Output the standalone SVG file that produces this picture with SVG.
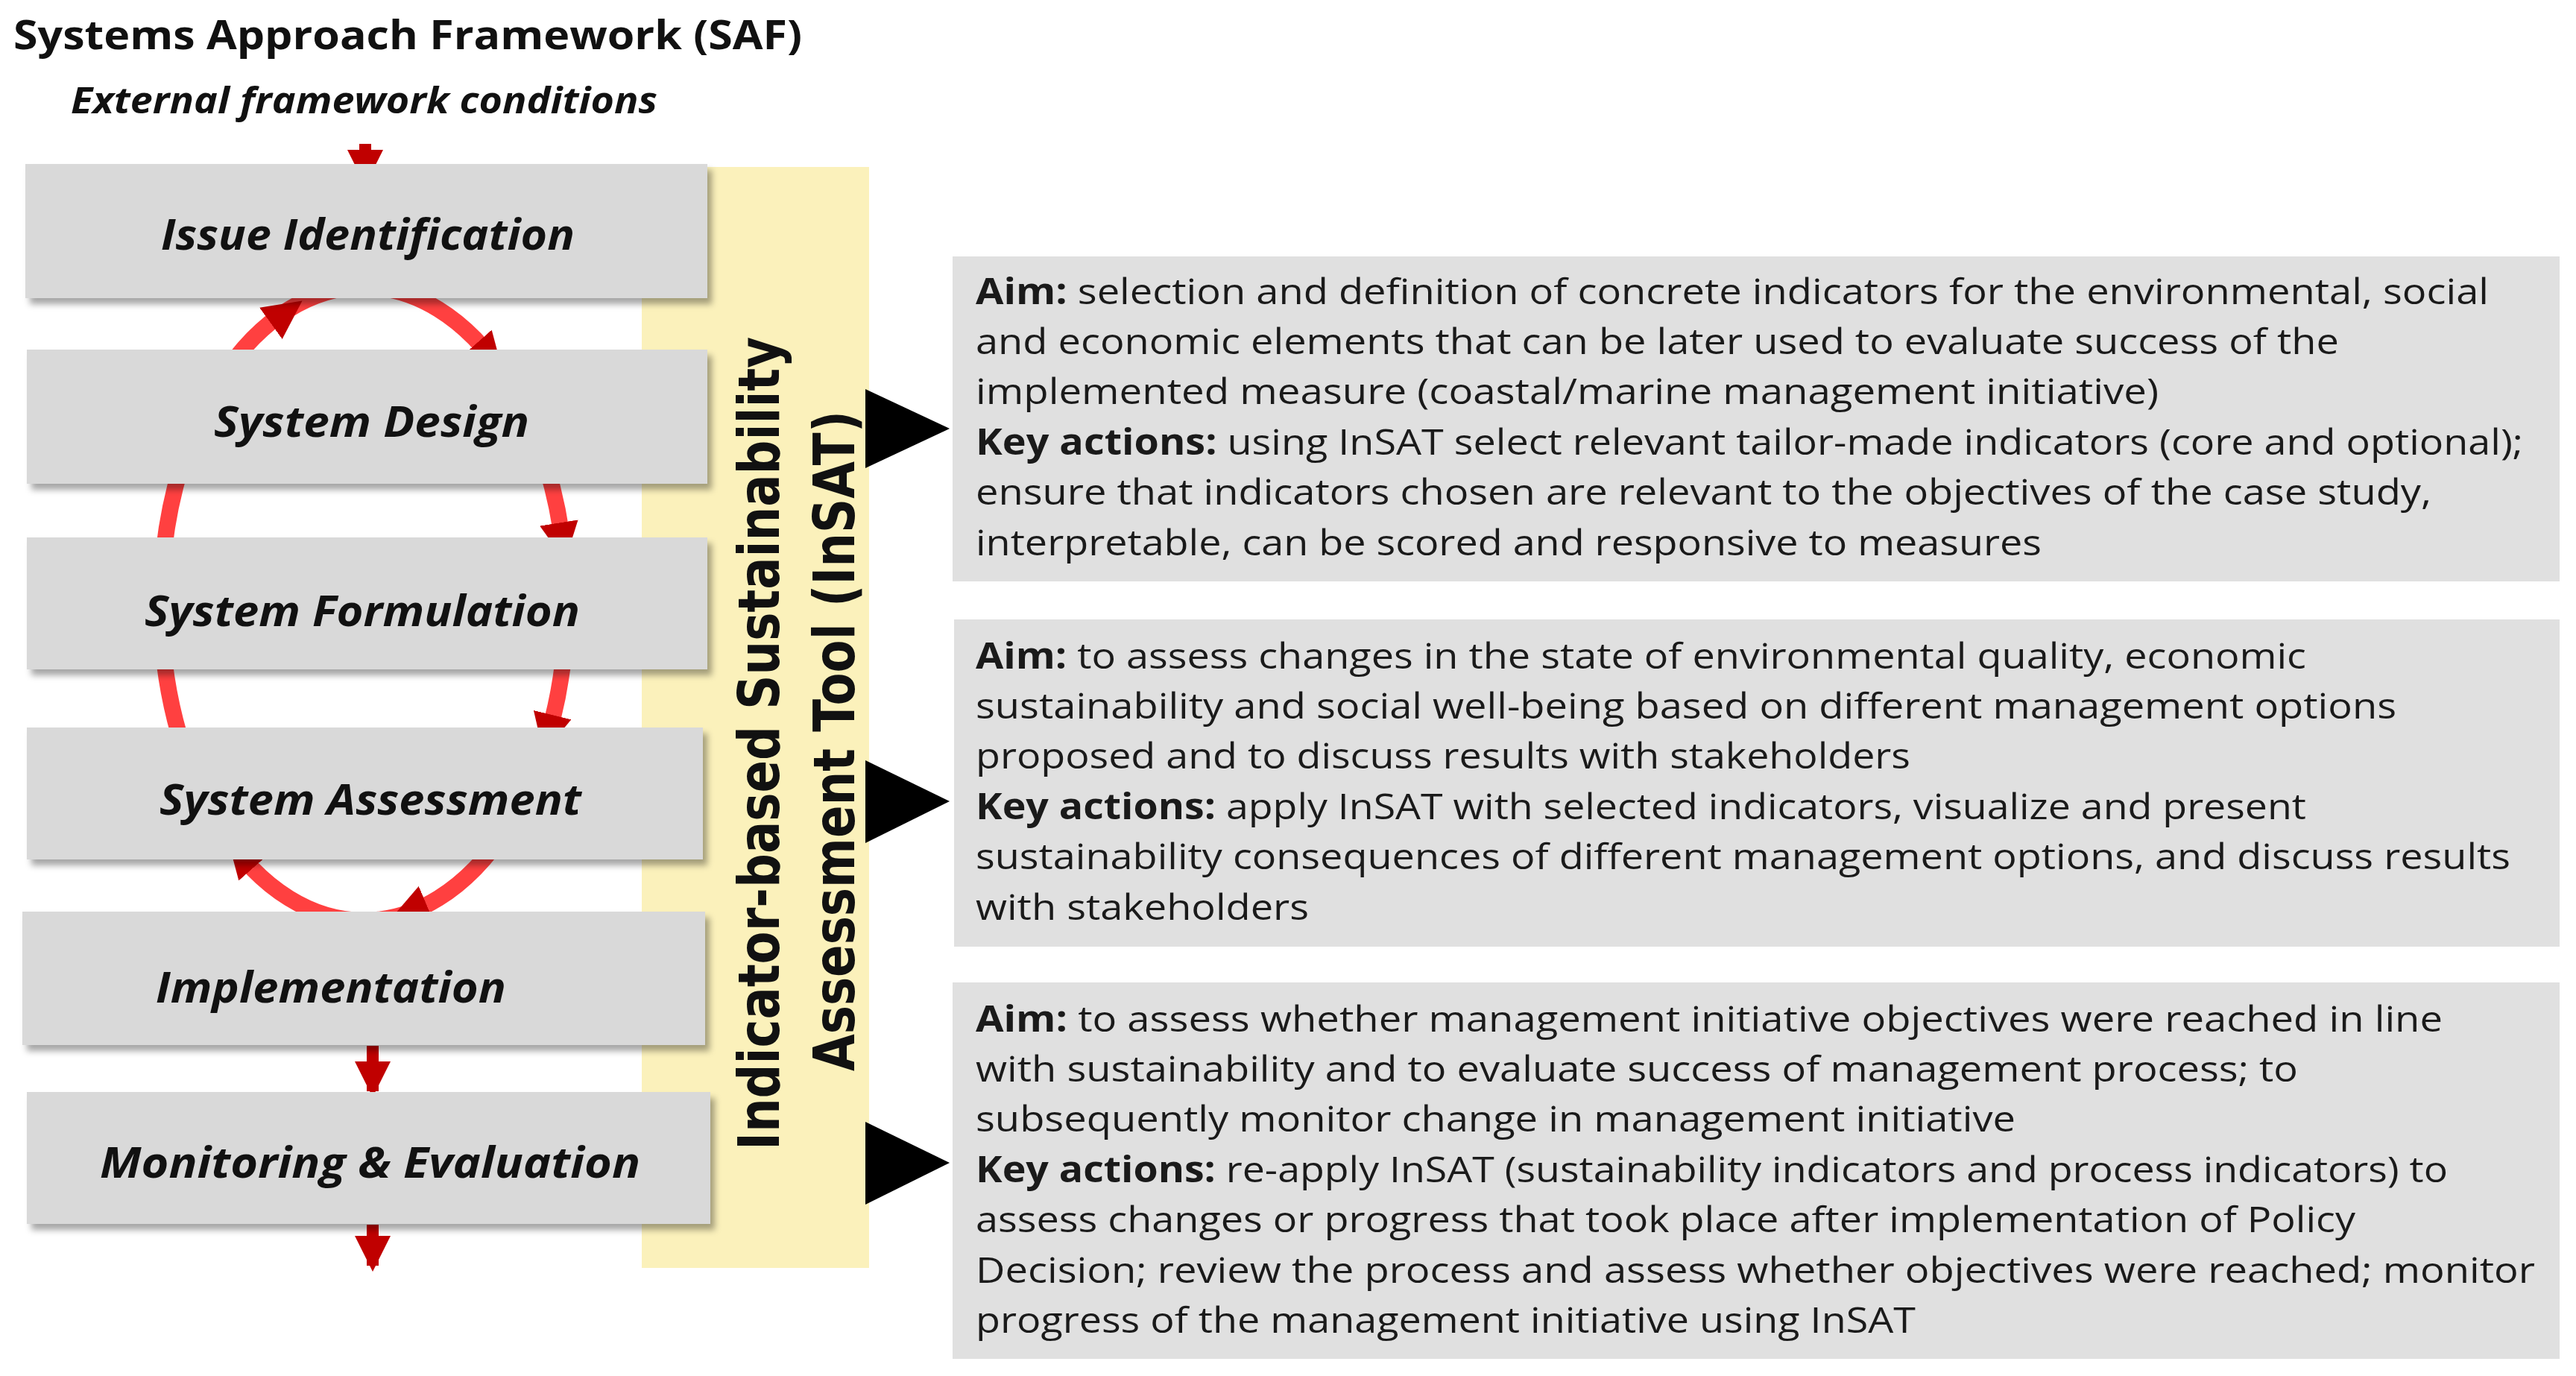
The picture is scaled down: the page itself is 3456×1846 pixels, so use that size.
<svg xmlns="http://www.w3.org/2000/svg" width="3456" height="1846" viewBox="0 0 3456 1846">
<style>
.box{fill:#d9d9d9;filter:url(#sh)}
.lbl{font-family:"Open Sans","Liberation Sans",sans-serif;font-weight:bold;font-style:italic;font-size:58px;fill:#111}
.rb{fill:#e0e0e0}
.t{font-family:"Open Sans","Liberation Sans",sans-serif;font-size:48px;fill:#1a1a1a}
.t tspan.b{font-weight:bold}
.v{font-family:"DejaVu Sans","Liberation Sans",sans-serif;font-weight:bold;font-size:76px;fill:#111}
.red{stroke:#c00000;stroke-width:16;fill:none}
.hd{stroke:#ff4040;stroke-width:1;fill:none}
</style>
<defs>
<filter id="sh" x="-5%" y="-10%" width="115%" height="130%"><feDropShadow dx="6" dy="8" stdDeviation="4" flood-color="#000" flood-opacity="0.35"/></filter>
<marker id="ah" viewBox="0 0 12 12" refX="9" refY="6" markerWidth="52" markerHeight="52" markerUnits="userSpaceOnUse" orient="auto"><path d="M0,0 L12,6 L0,12 z" fill="#c00000"/></marker>
<marker id="as" viewBox="0 0 12 12" refX="10" refY="6" markerWidth="48" markerHeight="48" markerUnits="userSpaceOnUse" orient="auto"><path d="M0,0 L12,6 L0,12 z" fill="#c00000"/></marker>
</defs>
<rect width="3456" height="1846" fill="#fff"/>
<text x="18" y="66" font-family="Open Sans,Liberation Sans,sans-serif" font-weight="bold" font-size="54" textLength="1058" lengthAdjust="spacingAndGlyphs" fill="#111">Systems Approach Framework (SAF)</text>
<text x="95" y="152" font-family="Open Sans,Liberation Sans,sans-serif" font-weight="bold" font-style="italic" font-size="48" textLength="787" lengthAdjust="spacingAndGlyphs" fill="#111">External framework conditions</text>
<rect id="band" x="861" y="224" width="305" height="1477" fill="#fbf1bb"/>
<g id="connectors">
<ellipse cx="488" cy="810" rx="272" ry="425" fill="none" stroke="#ff4040" stroke-width="22"/>
<path d="M352,442 L395,411" class="hd" marker-end="url(#ah)"/>
<path d="M628,446 L666,489" class="hd" marker-end="url(#ah)"/>
<path d="M744,665 L756,740" class="hd" marker-end="url(#ah)"/>
<path d="M749,927 L732,997" class="hd" marker-end="url(#ah)"/>
<path d="M581,1209 L536,1228" class="hd" marker-end="url(#ah)"/>
<path d="M352,1178 L314,1135" class="hd" marker-end="url(#ah)"/>
<path d="M490,193 L490,241" class="red" marker-end="url(#as)"/>
<path d="M500,1403 L500,1464" class="red" marker-end="url(#as)"/>
<path d="M500,1643 L500,1698" class="red" marker-end="url(#as)"/>
<path d="M1161,522 L1274,575 L1161,628 z" fill="#000"/>
<path d="M1161,1020 L1274,1075 L1161,1131 z" fill="#000"/>
<path d="M1161,1505 L1274,1560 L1161,1616 z" fill="#000"/>
</g>
<g id="n1"><rect class="box" x="34" y="220" width="915" height="180"/><text class="lbl" x="216" y="335" textLength="555" lengthAdjust="spacingAndGlyphs">Issue Identification</text></g>
<g id="n2"><rect class="box" x="36" y="469" width="913" height="180"/><text class="lbl" x="287" y="586" textLength="423" lengthAdjust="spacingAndGlyphs">System Design</text></g>
<g id="n3"><rect class="box" x="36" y="721" width="913" height="177"/><text class="lbl" x="194" y="840" textLength="584" lengthAdjust="spacingAndGlyphs">System Formulation</text></g>
<g id="n4"><rect class="box" x="36" y="976" width="907" height="177"/><text class="lbl" x="214" y="1093" textLength="566" lengthAdjust="spacingAndGlyphs">System Assessment</text></g>
<g id="n5"><rect class="box" x="30" y="1223" width="916" height="179"/><text class="lbl" x="209" y="1345" textLength="470" lengthAdjust="spacingAndGlyphs">Implementation</text></g>
<g id="n6"><rect class="box" x="36" y="1465" width="917" height="177"/><text class="lbl" x="134" y="1580" textLength="725" lengthAdjust="spacingAndGlyphs">Monitoring &amp; Evaluation</text></g>
<g id="insat">
<text class="v" transform="translate(1045,1543) rotate(-90)" textLength="1091" lengthAdjust="spacingAndGlyphs">Indicator-based Sustainability</text>
<text class="v" transform="translate(1146,1437) rotate(-90)" textLength="886" lengthAdjust="spacingAndGlyphs">Assessment Tool (InSAT)</text>
</g>
<g id="d1"><rect class="rb" x="1278" y="344" width="2156" height="436"/>
<text class="t" x="1309" y="408" textLength="2030" lengthAdjust="spacingAndGlyphs"><tspan class="b">Aim:</tspan> selection and definition of concrete indicators for the environmental, social</text>
<text class="t" x="1309" y="475" textLength="1829" lengthAdjust="spacingAndGlyphs">and economic elements that can be later used to evaluate success of the</text>
<text class="t" x="1309" y="542" textLength="1587" lengthAdjust="spacingAndGlyphs">implemented measure (coastal/marine management initiative)</text>
<text class="t" x="1309" y="610" textLength="2076" lengthAdjust="spacingAndGlyphs"><tspan class="b">Key actions:</tspan> using InSAT select relevant tailor-made indicators (core and optional);</text>
<text class="t" x="1309" y="677" textLength="1953" lengthAdjust="spacingAndGlyphs">ensure that indicators chosen are relevant to the objectives of the case study,</text>
<text class="t" x="1309" y="745" textLength="1430" lengthAdjust="spacingAndGlyphs">interpretable, can be scored and responsive to measures</text>
</g>
<g id="d2"><rect class="rb" x="1280" y="831" width="2154" height="439"/>
<text class="t" x="1309" y="897" textLength="1785" lengthAdjust="spacingAndGlyphs"><tspan class="b">Aim:</tspan> to assess changes in the state of environmental quality, economic</text>
<text class="t" x="1309" y="964" textLength="1906" lengthAdjust="spacingAndGlyphs">sustainability and social well-being based on different management options</text>
<text class="t" x="1309" y="1031" textLength="1254" lengthAdjust="spacingAndGlyphs">proposed and to discuss results with stakeholders</text>
<text class="t" x="1309" y="1099" textLength="1785" lengthAdjust="spacingAndGlyphs"><tspan class="b">Key actions:</tspan> apply InSAT with selected indicators, visualize and present</text>
<text class="t" x="1309" y="1166" textLength="2059" lengthAdjust="spacingAndGlyphs">sustainability consequences of different management options, and discuss results</text>
<text class="t" x="1309" y="1234" textLength="447" lengthAdjust="spacingAndGlyphs">with stakeholders</text>
</g>
<g id="d3"><rect class="rb" x="1278" y="1318" width="2156" height="505"/>
<text class="t" x="1309" y="1384" textLength="1968" lengthAdjust="spacingAndGlyphs"><tspan class="b">Aim:</tspan> to assess whether management initiative objectives were reached in line</text>
<text class="t" x="1309" y="1451" textLength="1774" lengthAdjust="spacingAndGlyphs">with sustainability and to evaluate success of management process; to</text>
<text class="t" x="1309" y="1518" textLength="1395" lengthAdjust="spacingAndGlyphs">subsequently monitor change in management initiative</text>
<text class="t" x="1309" y="1586" textLength="1975" lengthAdjust="spacingAndGlyphs"><tspan class="b">Key actions:</tspan> re-apply InSAT (sustainability indicators and process indicators) to</text>
<text class="t" x="1309" y="1653" textLength="1851" lengthAdjust="spacingAndGlyphs">assess changes or progress that took place after implementation of Policy</text>
<text class="t" x="1309" y="1721" textLength="2092" lengthAdjust="spacingAndGlyphs">Decision; review the process and assess whether objectives were reached; monitor</text>
<text class="t" x="1309" y="1788" textLength="1261" lengthAdjust="spacingAndGlyphs">progress of the management initiative using InSAT</text>
</g>
</svg>
